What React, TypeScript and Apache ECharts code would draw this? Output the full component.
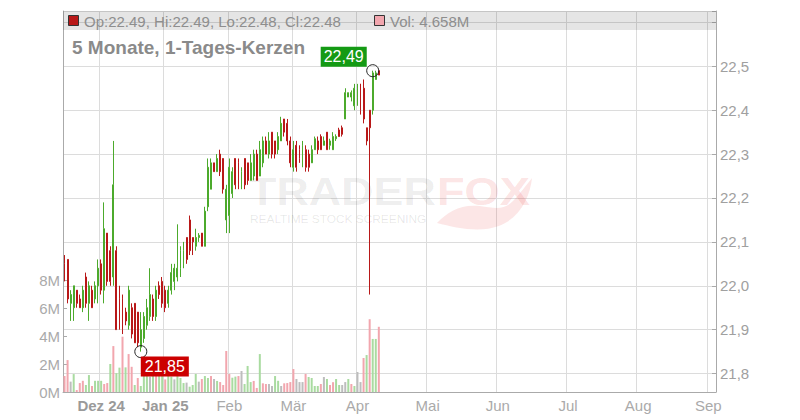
import { useEffect, useRef } from "react";
import * as echarts from "echarts";

// x axis: one slot per trading day, month boundaries carry the labels
const monthNames = ["Nov", "Dez 24", "Jan 25", "Feb", "Mär", "Apr", "Mai", "Jun", "Jul", "Aug", "Sep"];
const monthSlots = [12, 21, 21, 21, 21, 23, 23, 23, 23, 23, 3];
const boldMonths = ["Dez 24", "Jan 25"];

// [open, close, low, high]
const ohlc: number[][] = [
  [22.05, 22.02, 22.01, 22.07], [22.06, 21.97, 21.96, 22.06], [21.96, 21.98, 21.92, 21.99], [21.95, 22.0, 21.92, 22.0],
  [21.99, 21.96, 21.95, 21.99], [21.97, 21.95, 21.95, 21.98], [21.95, 21.99, 21.94, 22.0], [22.02, 21.96, 21.95, 22.03],
  [21.96, 22.0, 21.92, 22.01], [21.99, 21.95, 21.95, 22.0], [21.97, 22.0, 21.96, 22.01], [22.0, 22.04, 21.96, 22.06],
  [22.05, 21.99, 21.98, 22.06], [21.99, 22.13, 21.96, 22.19], [22.12, 22.01, 22.0, 22.12], [22.08, 22.01, 22.0, 22.09],
  [22.02, 22.23, 22.0, 22.33], [22.08, 21.9, 21.9, 22.09], [21.97, 21.92, 21.9, 22.0], [21.97, 21.9, 21.89, 21.98],
  [21.94, 21.92, 21.91, 21.95], [21.91, 21.99, 21.9, 22.0], [21.95, 21.89, 21.88, 21.96], [21.96, 21.87, 21.87, 21.96],
  [21.94, 21.87, 21.86, 21.94], [21.86, 21.9, 21.85, 21.94], [21.88, 21.93, 21.87, 21.94], [21.91, 21.95, 21.9, 21.97],
  [21.93, 21.98, 21.92, 22.04], [21.97, 21.93, 21.92, 21.98], [21.93, 21.99, 21.92, 22.0], [22.0, 21.98, 21.97, 22.01],
  [22.01, 21.96, 21.95, 22.02], [21.99, 21.95, 21.94, 22.0], [21.96, 21.99, 21.95, 22.0], [21.99, 22.03, 21.98, 22.05],
  [22.01, 22.04, 21.99, 22.05], [22.02, 22.04, 22.01, 22.14], [22.04, 22.08, 22.02, 22.09], [22.05, 22.08, 22.04, 22.1],
  [22.11, 22.06, 22.05, 22.11], [22.15, 22.08, 22.07, 22.16], [22.11, 22.1, 22.07, 22.11], [22.09, 22.11, 22.08, 22.13],
  [22.11, 22.115, 22.1, 22.12], [22.12, 22.09, 22.09, 22.12], [22.09, 22.17, 22.09, 22.18], [22.18, 22.27, 22.17, 22.29],
  [22.22, 22.28, 22.22, 22.29], [22.28, 22.26, 22.26, 22.28], [22.26, 22.29, 22.26, 22.3], [22.3, 22.26, 22.25, 22.31],
  [22.29, 22.22, 22.21, 22.29], [22.15, 22.22, 22.12, 22.23], [22.16, 22.27, 22.12, 22.29], [22.21, 22.26, 22.2, 22.27],
  [22.29, 22.23, 22.22, 22.29], [22.28, 22.23, 22.22, 22.29], [22.23, 22.26, 22.22, 22.27], [22.29, 22.23, 22.22, 22.29],
  [22.28, 22.24, 22.23, 22.28], [22.24, 22.28, 22.24, 22.3], [22.25, 22.3, 22.24, 22.31], [22.3, 22.24, 22.24, 22.31],
  [22.25, 22.31, 22.25, 22.33], [22.28, 22.33, 22.27, 22.34], [22.33, 22.3, 22.3, 22.34], [22.3, 22.33, 22.29, 22.35],
  [22.35, 22.3, 22.29, 22.35], [22.33, 22.3, 22.29, 22.33], [22.31, 22.34, 22.3, 22.35], [22.33, 22.37, 22.33, 22.385],
  [22.38, 22.35, 22.34, 22.38], [22.37, 22.33, 22.32, 22.38], [22.33, 22.28, 22.27, 22.34], [22.27, 22.31, 22.26, 22.33],
  [22.32, 22.27, 22.26, 22.33], [22.31, 22.29, 22.28, 22.32], [22.28, 22.32, 22.27, 22.33], [22.31, 22.27, 22.26, 22.32],
  [22.3, 22.27, 22.26, 22.31], [22.28, 22.31, 22.28, 22.32], [22.31, 22.335, 22.31, 22.34], [22.33, 22.31, 22.3, 22.34],
  [22.34, 22.31, 22.31, 22.345], [22.32, 22.33, 22.32, 22.34], [22.35, 22.31, 22.31, 22.35], [22.32, 22.33, 22.31, 22.335],
  [22.31, 22.34, 22.31, 22.35], [22.335, 22.34, 22.33, 22.345], [22.355, 22.34, 22.34, 22.36], [22.36, 22.345, 22.34, 22.365],
  [22.38, 22.44, 22.38, 22.45], [22.43, 22.44, 22.43, 22.44], [22.43, 22.44, 22.42, 22.445], [22.41, 22.45, 22.4, 22.46],
  [22.43, 22.45, 22.41, 22.46], [22.46, 22.4, 22.39, 22.46], [22.45, 22.38, 22.37, 22.47], [22.36, 22.33, 22.32, 22.36],
  [22.4, 22.36, 21.98, 22.4], [22.4, 22.485, 22.39, 22.49], [22.47, 22.485, 22.47, 22.49], [22.49, 22.48, 22.48, 22.49],
];

// volume in millions, tone: p = down, g = up, n = unchanged
const volumes = [
  1.14, 2.28, 0.74, 1.28, 0.14, 0.64, 0.8, 0.5, 1.21, 0.43, 0.8, 0.8, 0.8, 0.57, 0.64, 2.0, 3.28, 1.35, 1.74, 3.95, 1.76, 2.71, 1.8, 0.5, 1.0, 0.43,
  1.4, 1.3, 1.1, 1.6, 1.2, 1.5, 1.2, 0.9, 1.3, 1.1, 0.9, 1.4, 1.0, 0.64,
  0.67, 0.38, 0.5, 1.29, 0.74, 0.93, 1.14, 1.0, 1.14, 0.93, 0.79, 0.71, 0.5, 2.93,
  1.29, 1.02, 1.1, 1.14, 1.5, 0.57, 1.86, 0.71, 0.79, 0.29, 2.71, 0.62, 0.57, 0.57, 0.43, 1.14, 0.8, 0.43, 0.62, 0.64, 0.71,
  1.64, 0.93, 0.71, 0.71, 1.29, 1.07, 1.0, 0.43, 0.43, 0.57, 1.07, 0.93, 0.5, 0.7, 0.93, 0.5, 0.5, 0.71, 0.93, 0.57, 0.43,
  1.43, 0.71, 2.43, 2.64, 5.2, 3.79, 3.79, 4.658,
];
const volTones =
  "ppngpppggpgggppgpggpgppgpg" + "ggngpggpggnggg" + "ngggnpggpngppp" + "pggpngggppgppnnggnppp" + "pnnnpggggpngppggnngpg" + "nnpgpggp";

const highMark = { slot: 101, value: 22.49 };
const lowMark = { slot: 25, value: 21.85 };

const GREEN = "#4caa2c";
const RED = "#b81818";
const FONT = "'Liberation Sans', Arial, sans-serif";

const fmtDe = (v: number, d: number) => v.toFixed(d).replace(".", ",");

export default function App() {
  const elRef = useRef<HTMLDivElement>(null);

  useEffect(() => {
    document.body.style.margin = "0";
    if (!elRef.current) return;
    const chart = echarts.init(elRef.current, undefined, { renderer: "svg" });

    echarts.graphic.registerShape(
      "foxTail",
      echarts.graphic.extendPath(
        "M0 47 C12 35 25 28 45 30 C60 32 70 35 80 25 C88 17 95 8 100 2 C98 20 88 42 65 50 C45 57 20 52 0 47 Z",
        {}
      )
    );

    const cats: string[] = [];
    const monthStart = new Map<number, string>();
    monthSlots.forEach((n, m) => {
      if (m > 0) monthStart.set(cats.length, monthNames[m]);
      for (let k = 0; k < n; k++) cats.push(`s${cats.length}`);
    });
    const isMonth = (i: number) => monthStart.has(i);

    const toneColor: Record<string, string> = { p: "#f2a6ae", g: "#a9dba0", n: "#bdbdbd" };
    const last = ohlc[ohlc.length - 1];

    chart.setOption({
      animation: false,
      textStyle: { fontFamily: FONT },
      grid: [
        { left: 63, right: 84, top: 11, bottom: 28 },
        { left: 63, right: 84, top: 280, bottom: 28 },
      ],
      xAxis: [
        {
          type: "category",
          gridIndex: 0,
          data: cats,
          boundaryGap: true,
          axisLine: { lineStyle: { color: "#aaa" } },
          axisTick: { interval: isMonth, length: 4, lineStyle: { color: "#aaa" } },
          splitLine: { show: true, interval: isMonth, lineStyle: { color: "#dcdcdc" } },
          axisLabel: {
            interval: isMonth,
            margin: 6,
            fontSize: 15,
            color: "#aaa",
            formatter: (_v: string, i: number) => {
              const name = monthStart.get(i) ?? "";
              return boldMonths.includes(name) ? `{b|${name}}` : name;
            },
            rich: { b: { fontWeight: "bold", color: "#9a9a9a", fontSize: 15, fontFamily: FONT } },
          },
        },
        { type: "category", gridIndex: 1, data: cats, boundaryGap: true, show: false },
      ],
      yAxis: [
        {
          type: "value",
          gridIndex: 0,
          position: "right",
          min: 21.758,
          max: 22.626,
          splitNumber: 8,
          axisLine: { show: true, lineStyle: { color: "#aaa" } },
          axisTick: { show: true, inside: true, length: 4, lineStyle: { color: "#aaa" } },
          splitLine: { show: true, lineStyle: { color: "#dcdcdc" } },
          axisLabel: {
            margin: 4,
            fontSize: 15,
            color: "#a0a0a0",
            formatter: (v: number) => {
              const r = Math.round(v * 10) / 10;
              return Math.abs(r - v) < 1e-6 && r <= 22.5 ? fmtDe(r, 1) : "";
            },
          },
        },
        {
          type: "value",
          gridIndex: 0,
          position: "left",
          min: 0,
          max: 1,
          axisLine: { show: true, lineStyle: { color: "#aaa" } },
          axisTick: { show: false },
          axisLabel: { show: false },
          splitLine: { show: false },
        },
        {
          type: "value",
          gridIndex: 1,
          position: "left",
          min: 0,
          max: 8,
          interval: 2,
          axisLine: { show: false },
          axisTick: { show: true, inside: true, length: 4, lineStyle: { color: "#aaa" } },
          splitLine: { show: false },
          axisLabel: { margin: 3, fontSize: 15, color: "#aaa", formatter: (v: number) => `${v}M` },
        },
      ],
      series: [
        {
          type: "bar",
          xAxisIndex: 1,
          yAxisIndex: 2,
          barWidth: 2,
          data: volumes.map((v, i) => ({ value: v, itemStyle: { color: toneColor[volTones[i]] } })),
          z: 1,
        },
        {
          type: "candlestick",
          xAxisIndex: 0,
          yAxisIndex: 0,
          barWidth: 1.4,
          data: ohlc,
          itemStyle: { color: GREEN, color0: RED, borderColor: GREEN, borderColor0: RED, borderWidth: 1 },
          z: 3,
          markPoint: {
            symbol: "circle",
            symbolSize: 12,
            itemStyle: { color: "rgba(255,255,255,0)", borderColor: "#222", borderWidth: 1 },
            data: [
              {
                coord: [cats[highMark.slot], highMark.value],
                label: {
                  show: true,
                  position: "inside",
                  offset: [-29, -14],
                  formatter: fmtDe(highMark.value, 2),
                  backgroundColor: "#149a14",
                  color: "#fff",
                  padding: [2, 3],
                  fontSize: 16,
                  lineHeight: 16,
                },
              },
              {
                coord: [cats[lowMark.slot], lowMark.value],
                label: {
                  show: true,
                  position: "inside",
                  offset: [24, 15],
                  formatter: fmtDe(lowMark.value, 2),
                  backgroundColor: "#cc0000",
                  color: "#fff",
                  padding: [2, 4],
                  fontSize: 16,
                  lineHeight: 16,
                },
              },
            ],
          },
        },
      ],
      graphic: {
        elements: [
          {
            type: "text", x: 249, y: 192, z: 1, scaleX: 1.18, silent: true,
            style: { text: "TRADER", fill: "rgba(0,0,0,0.08)", font: `bold 38px ${FONT}`, verticalAlign: "middle" },
          },
          {
            type: "text", x: 437, y: 192, z: 1, scaleX: 1.19, silent: true,
            style: { text: "FOX", fill: "rgba(235,60,60,0.15)", font: `bold 38px ${FONT}`, verticalAlign: "middle" },
          },
          {
            type: "foxTail", x: 437, y: 176, z: 1, scaleX: 0.95, scaleY: 1, silent: true,
            style: { fill: "rgba(235,60,60,0.13)" },
          },
          {
            type: "text", x: 250, y: 219, z: 1, scaleX: 1.08, silent: true,
            style: { text: "REALTIME STOCK SCREENING", fill: "rgba(0,0,0,0.1)", font: `11px ${FONT}`, verticalAlign: "middle" },
          },
          {
            type: "rect", z: 10, silent: true,
            shape: { x: 63, y: 11, width: 653, height: 19 },
            style: { fill: "rgba(0,0,0,0.1)" },
          },
          {
            type: "rect", z: 11, silent: true,
            shape: { x: 68.5, y: 15.5, width: 10, height: 10 },
            style: { fill: RED, stroke: "#333", lineWidth: 1 },
          },
          {
            type: "text", x: 84, y: 21, z: 11, silent: true,
            style: {
              text: `Op:${last[0].toFixed(2)}, Hi:${last[3].toFixed(2)}, Lo:${last[2].toFixed(2)}, Cl:${last[1].toFixed(2)}`,
              fill: "#8e8e8e", font: `15px ${FONT}`, verticalAlign: "middle",
            },
          },
          {
            type: "rect", z: 11, silent: true,
            shape: { x: 374.5, y: 15.5, width: 10, height: 10 },
            style: { fill: "#f2a6ae", stroke: "#333", lineWidth: 1 },
          },
          {
            type: "text", x: 390, y: 21, z: 11, silent: true,
            style: {
              text: `Vol: ${volumes[volumes.length - 1].toFixed(3)}M`,
              fill: "#8e8e8e", font: `15px ${FONT}`, verticalAlign: "middle",
            },
          },
          {
            type: "text", x: 72, y: 47, z: 11, silent: true,
            style: { text: "5 Monate, 1-Tages-Kerzen", fill: "#8a8a8a", font: `bold 19px ${FONT}`, verticalAlign: "middle" },
          },
        ],
      },
    });

    return () => chart.dispose();
  }, []);

  return <div ref={elRef} style={{ width: 800, height: 420 }} />;
}
